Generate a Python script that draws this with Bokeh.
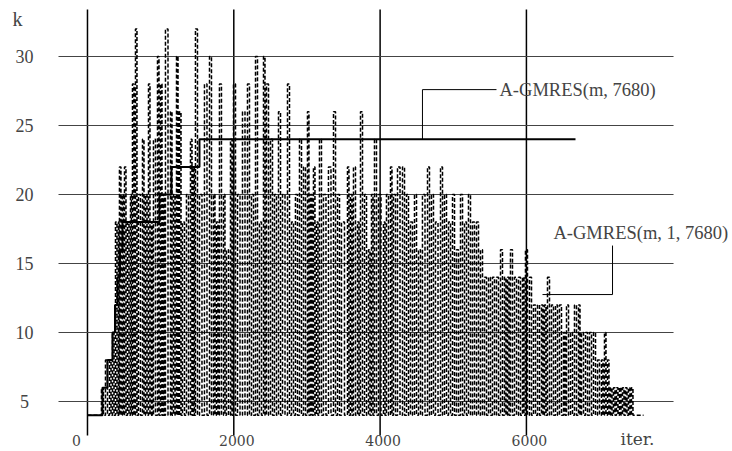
from bokeh.plotting import figure
from bokeh.models import Label, Range1d
from bokeh.embed import file_html
from bokeh.resources import INLINE

# A-GMRES(m, 7680): restart length k, changed stepwise with the iteration count
step_iter = [0, 205, 273, 342, 376, 410, 444, 478, 984, 1148, 1531]
step_k = [4, 6, 8, 10, 12, 14, 16, 18, 20, 22, 24]
step_last_iter = 6671

# A-GMRES(m, 1, 7680): k jumps up at each restart and falls back to 4
spike_iter = [
    191, 246, 301, 342, 383, 424, 437, 478, 506, 547, 588, 615, 656, 697, 752,
    793, 834, 875, 902, 957, 998, 1039, 1066, 1135, 1176, 1217, 1258, 1299,
    1353, 1408, 1449, 1476, 1531, 1599, 1668, 1722, 1763, 1804, 1859, 1900,
    1955, 1996, 2051, 2119, 2187, 2242, 2297, 2351, 2406, 2447, 2502, 2556,
    2611, 2666, 2734, 2789, 2843, 2898, 2953, 3007, 3048, 3089, 3130, 3171,
    3226, 3294, 3363, 3418, 3472, 3554, 3595, 3636, 3691, 3732, 3787, 3841,
    3882, 3923, 3978, 4046, 4087, 4142, 4183, 4238, 4306, 4361, 4415, 4470,
    4525, 4579, 4648, 4702, 4757, 4826, 4880, 4935, 4990, 5044, 5099, 5154,
    5208, 5263, 5318, 5372, 5427, 5482, 5536, 5591, 5646, 5700, 5741, 5782,
    5837, 5892, 5946, 5987, 6042, 6097, 6152, 6206, 6247, 6288, 6343, 6398,
    6452, 6507, 6548, 6603, 6657, 6712, 6753, 6808, 6862, 6917, 6972, 7026,
    7067, 7108, 7149, 7190, 7231, 7272, 7313, 7354, 7395, 7436,
]
spike_k = [
    6, 8, 8, 10, 18, 18, 22, 20, 22, 18, 20, 28, 32, 20, 24,
    20, 28, 18, 24, 30, 28, 20, 32, 26, 20, 30, 26, 18,
    20, 24, 22, 32, 20, 28, 30, 20, 18, 28, 20, 16,
    24, 28, 20, 26, 28, 20, 30, 18, 30, 28, 24, 20,
    26, 20, 28, 18, 20, 24, 22, 26, 20, 22, 18, 24,
    20, 22, 26, 20, 18, 22, 20, 22, 18, 26, 20, 16,
    20, 24, 20, 18, 20, 22, 20, 22, 22, 20, 18, 20,
    16, 20, 22, 20, 18, 22, 20, 18, 20, 16, 20, 18,
    20, 18, 18, 16, 14, 14, 14, 14, 16, 14, 14, 16,
    14, 14, 14, 16, 14, 12, 12, 12, 12, 14, 12, 12,
    12, 10, 12, 10, 12, 12, 10, 10, 10, 10, 8, 8,
    10, 8, 6, 6, 6, 6, 6, 6, 6, 6,
]
spike_stop_iter = 7477
run_end_iter = 7601
k_base = 4

x_ticks = [0, 2000, 4000, 6000]
x_tick_labels = ["0", "2000", "4000", "6000"]
y_ticks = [5, 10, 15, 20, 25, 30]
y_tick_labels = ["5", "10", "15", "20", "25", "30"]

# extent of the gridded area
x_lo, x_hi = -396, 8011
y_lo, y_hi = 2.54, 33.4

SERIF = "Liberation Serif"
WIDE_SERIF = "DejaVu Serif"

# the frame covers the whole canvas so that labels outside the grid stay visible
p = figure(
    width=732, height=451,
    x_range=Range1d(-1189, 8817), y_range=Range1d(1.377, 34.058),
    x_axis_location=None, y_axis_location=None,
    toolbar_location=None, output_backend="svg", title=None,
    min_border=0,
)
p.outline_line_color = None
p.background_fill_color = "white"
p.border_fill_color = "white"
p.grid.visible = False

# grid lines
p.segment(x0=x_ticks, y0=[y_lo] * len(x_ticks), x1=x_ticks, y1=[y_hi] * len(x_ticks),
          line_color="black", line_width=1.5)
p.segment(x0=[x_lo] * len(y_ticks), y0=y_ticks, x1=[x_hi] * len(y_ticks), y1=y_ticks,
          line_color="#444444", line_width=1)

# oscillating restart series as a step path
osc_x, osc_y = [0], [k_base]
for i, (it, k) in enumerate(zip(spike_iter, spike_k)):
    nxt = spike_iter[i + 1] if i + 1 < len(spike_iter) else spike_stop_iter
    back = (it + nxt) / 2
    osc_x += [it, it, back, back]
    osc_y += [k_base, k, k, k_base]
osc_x += [spike_stop_iter, run_end_iter]
osc_y += [k_base, k_base]
p.line(osc_x, osc_y, line_color="black", line_width=1.5, line_dash="4 2")

# stepwise series
st_x, st_y = [], []
for i, (it, k) in enumerate(zip(step_iter, step_k)):
    nxt = step_iter[i + 1] if i + 1 < len(step_iter) else step_last_iter
    st_x += [it, nxt]
    st_y += [k, k]
p.line(st_x, st_y, line_color="black", line_width=2)

# callout leaders
p.line([4579, 4579, 5591], [24, 27.6, 27.6], line_color="black", line_width=1)
p.line([6220, 7177, 7177], [12.75, 12.75, 16.3], line_color="black", line_width=1)

p.add_layout(Label(x=5632, y=27.6, text="A-GMRES(m, 7680)",
                   text_font=SERIF, text_font_size="18.5px",
                   text_baseline="middle", text_align="left"))
p.add_layout(Label(x=6370, y=17.2, text="A-GMRES(m, 1, 7680)",
                   text_font=SERIF, text_font_size="18.5px",
                   text_baseline="middle", text_align="left"))

# tick labels
for v, t in zip(y_ticks, y_tick_labels):
    p.add_layout(Label(x=-861, y=v, text=t, text_font=SERIF,
                       text_font_size="18px", text_align="center",
                       text_baseline="middle"))
x_label_shift = {"0": -11}
for v, t in zip(x_ticks, x_tick_labels):
    p.add_layout(Label(x=v, y=2.15, text=t, text_font=WIDE_SERIF,
                       text_font_size="14px", text_align="center",
                       text_baseline="middle",
                       x_offset=x_label_shift.get(t, 3)))

# axis names
p.add_layout(Label(x=-957, y=32.7, text="k", text_font=SERIF,
                   text_font_size="20px", text_align="center",
                   text_baseline="middle"))
p.add_layout(Label(x=7286, y=2.3, text="iter.", text_font=WIDE_SERIF,
                   text_font_size="17px", text_align="left",
                   text_baseline="middle"))

open("out.html", "w").write(file_html(p, INLINE))
